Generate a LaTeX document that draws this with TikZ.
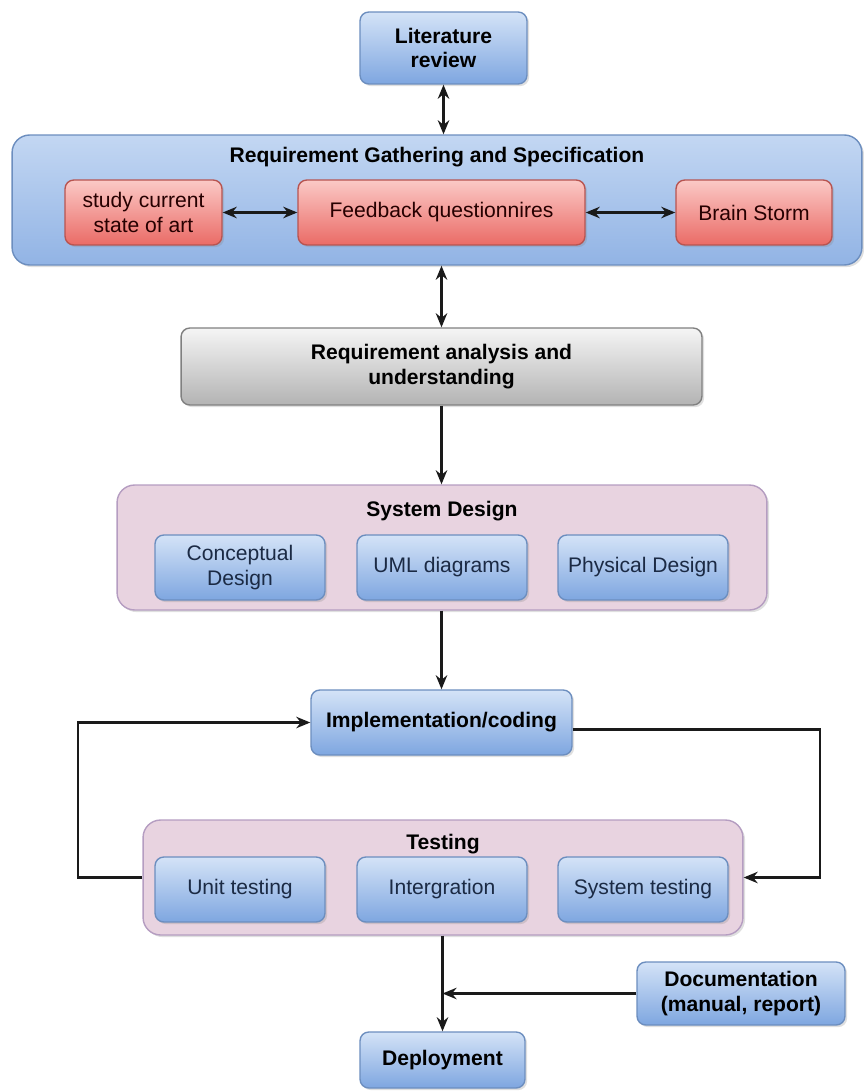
\documentclass[tikz,border=0pt]{standalone}
\usepackage{fontspec}
\setmainfont{Liberation Sans}
\usetikzlibrary{positioning,shadows,arrows.meta}

\definecolor{blueTop}{HTML}{D4E3F7}
\definecolor{blueBot}{HTML}{7EA6E0}
\definecolor{blueLine}{HTML}{6C8EBF}
\definecolor{redTop}{HTML}{FBC9C6}
\definecolor{redBot}{HTML}{EA6B66}
\definecolor{redLine}{HTML}{B85450}
\definecolor{grayTop}{HTML}{F5F5F5}
\definecolor{grayBot}{HTML}{B3B3B3}
\definecolor{pinkFill}{HTML}{E8D3E0}
\definecolor{pinkLine}{HTML}{9673A6}
\definecolor{arrowCol}{HTML}{1A1A1A}
\definecolor{navyText}{HTML}{1B2A44}

\tikzset{
  box/.style={rectangle, rounded corners=5pt, draw=blueLine, line width=0.8pt,
    top color=blueTop, bottom color=blueBot, align=center, text=navyText,
    drop shadow={opacity=0.25, shadow xshift=1.2pt, shadow yshift=-1.2pt},
    font=\fontsize{12}{14}\selectfont},
  headbox/.style={box, text=black, font=\fontsize{12}{14}\selectfont\bfseries},
  redbox/.style={box, draw=redLine, top color=redTop, bottom color=redBot, text=black!85!red},
  graybox/.style={headbox, draw=gray, top color=grayTop, bottom color=grayBot},
  group/.style={rectangle, rounded corners=10pt, draw=blueLine, line width=0.8pt,
    top color=blueTop!80!blueBot, bottom color=blueBot!85!white,
    drop shadow={opacity=0.25, shadow xshift=1.2pt, shadow yshift=-1.2pt}},
  pinkgroup/.style={group, draw=pinkLine!70, top color=pinkFill, bottom color=pinkFill},
  grouptitle/.style={font=\fontsize{12}{14}\selectfont\bfseries},
  flow/.style={-{Stealth[length=8pt,width=6.5pt]}, line width=1.4pt, draw=arrowCol},
  both/.style={{Stealth[length=8pt,width=6.5pt]}-{Stealth[length=8pt,width=6.5pt]}, line width=1.4pt, draw=arrowCol}
}

\begin{document}
\begin{tikzpicture}[x=0.02cm, y=-0.02cm]
\useasboundingbox (0,0) rectangle (864,1092);

% top
\node[headbox, minimum width=3.34cm, minimum height=1.44cm] (lit) at (443.5,48) {Literature\\review};

% requirement gathering
\node[group, minimum width=17cm, minimum height=2.6cm] (gather) at (437,200) {};
\node[grouptitle, below=4pt of gather.north] (gatherT) {Requirement Gathering and Specification};
\node[redbox, minimum width=5.74cm, minimum height=1.3cm] (feed) at (441.5,212.5) {Feedback questionnires};
\node[redbox, minimum width=3.14cm, minimum height=1.3cm] (study) at (143.5,212.5) {study current\\state of art};
\node[redbox, minimum width=3.12cm, minimum height=1.3cm] (brain) at (754,212.5) {Brain Storm};

% analysis
\node[graybox, minimum width=10.42cm, minimum height=1.54cm] (anal) at (441.5,366.5) {Requirement analysis and\\understanding};

% system design
\node[pinkgroup, minimum width=13cm, minimum height=2.5cm] (design) at (442,547.5) {};
\node[grouptitle, below=6pt of design.north] (designT) {System Design};
\node[box, minimum width=3.4cm, minimum height=1.3cm] (uml) at (442,567.5) {UML diagrams};
\node[box, minimum width=3.4cm, minimum height=1.3cm] (concept) at (240,567.5) {Conceptual\\Design};
\node[box, minimum width=3.4cm, minimum height=1.3cm] (phys) at (643,567.5) {Physical Design};

% implementation
\node[headbox, minimum width=5.22cm, minimum height=1.3cm] (impl) at (441.5,722.5) {Implementation/coding};

% testing
\node[pinkgroup, minimum width=12cm, minimum height=2.3cm] (test) at (443,877.5) {};
\node[grouptitle, below=5pt of test.north] (testT) {Testing};
\node[box, minimum width=3.4cm, minimum height=1.3cm] (integ) at (442,889.5) {Intergration};
\node[box, minimum width=3.4cm, minimum height=1.3cm] (unit) at (240,889.5) {Unit testing};
\node[box, minimum width=3.4cm, minimum height=1.3cm] (systest) at (643,889.5) {System testing};

% bottom
\node[headbox, minimum width=4.16cm, minimum height=1.26cm] (docu) at (741,993.5) {Documentation\\(manual, report)};
\node[headbox, minimum width=3.3cm, minimum height=1.12cm] (deploy) at (442.5,1060) {Deployment};

\coordinate (loopL) at (78,0);
\coordinate (loopR) at (820,0);

% connectors
\draw[both] (lit) -- (gather.north -| lit);
\draw[both] (gather.south -| anal) -- (anal);
\draw[both] (study) -- (feed);
\draw[both] (feed) -- (brain);
\draw[flow] (anal) -- (design.north -| anal);
\draw[flow] (design.south -| impl) -- (impl);
\draw[flow] (test.west) -- (test.west -| loopL) |- (impl.west);
\draw[flow] ([yshift=-4pt]impl.east) -- ([yshift=-4pt]impl.east -| loopR) |- (test.east);
\draw[flow] (test.south -| deploy) -- (deploy);
\draw[flow] (docu.west) -- (docu.west -| deploy.north);
\end{tikzpicture}
\end{document}
